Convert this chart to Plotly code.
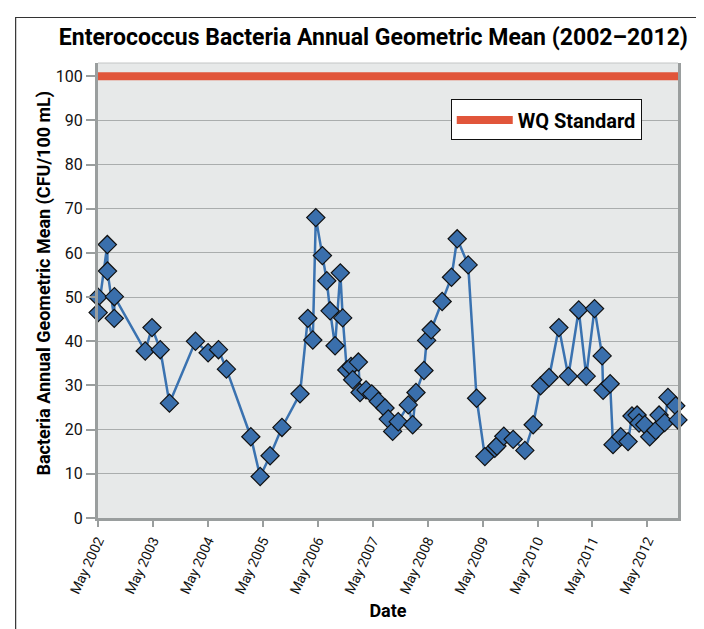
import plotly.graph_objects as go

dates = [
    "2002-05-01", "2002-05-02", "2002-07-02", "2002-07-03", "2002-08-17", "2002-08-18",
    "2003-03-11", "2003-04-25", "2003-06-19", "2003-08-19",
    "2004-02-08", "2004-05-02", "2004-07-10", "2004-09-01",
    "2005-02-10", "2005-04-13", "2005-06-18", "2005-09-05",
    "2006-01-03", "2006-02-24", "2006-03-29", "2006-04-18", "2006-06-01", "2006-06-30",
    "2006-07-22", "2006-08-24", "2006-09-28", "2006-10-14", "2006-11-10", "2006-12-08",
    "2006-12-19", "2007-01-26", "2007-02-06", "2007-03-18", "2007-04-25", "2007-06-08",
    "2007-07-22", "2007-08-13", "2007-09-11", "2007-10-18", "2007-12-24",
    "2008-01-22", "2008-02-13", "2008-04-06", "2008-04-24", "2008-05-24", "2008-08-05",
    "2008-10-06", "2008-11-13",
    "2009-01-25", "2009-03-22", "2009-05-16", "2009-07-21", "2009-08-04", "2009-09-19",
    "2009-11-20",
    "2010-02-06", "2010-04-02", "2010-05-21", "2010-07-17", "2010-09-20", "2010-11-22",
    "2011-01-30", "2011-03-21", "2011-05-15", "2011-07-05", "2011-07-11", "2011-08-27",
    "2011-09-15", "2011-11-05", "2011-12-24",
    "2012-01-19", "2012-02-22", "2012-03-06", "2012-04-13", "2012-05-16", "2012-06-25",
    "2012-07-17", "2012-08-23", "2012-09-14", "2012-11-05", "2012-11-20",
]
geo_mean = [
    50.0, 46.5, 61.9, 55.9, 45.2, 50.1,
    37.8, 43.1, 38.1, 26.0,
    40.0, 37.4, 38.1, 33.7,
    18.4, 9.4, 14.1, 20.5,
    28.1, 45.2, 40.3, 68.0, 59.4, 53.7,
    46.9, 39.0, 55.5, 45.3, 33.5, 34.3,
    31.3, 35.3, 28.4, 29.0, 28.1, 26.4,
    24.9, 22.4, 19.6, 21.8, 25.6,
    21.1, 28.4, 33.4, 40.2, 42.6, 49.0,
    54.5, 63.2,
    57.3, 27.1, 13.9, 15.8, 16.3, 18.5,
    17.8,
    15.3, 21.1, 29.9, 31.8, 43.1, 32.1,
    47.1, 32.1, 47.4, 36.7, 28.9, 30.4,
    16.6, 18.4, 17.3,
    23.1, 23.3, 21.5, 21.1, 18.4, 19.8,
    23.3, 21.6, 27.3, 25.4, 22.2,
]

x_range = ["2002-05-01", "2012-11-20"]
wq_standard = 100
wq_name = "WQ Standard"
y_ticks = [0, 10, 20, 30, 40, 50, 60, 70, 80, 90, 100]
y_title = "Bacteria Annual Geometric Mean (CFU/100 mL)"

FONT = "Roboto, Liberation Sans, sans-serif"

fig = go.Figure()
fig.add_trace(go.Scatter(
    x=x_range, y=[wq_standard, wq_standard], mode="lines", name=wq_name,
    line=dict(color="#e1553a", width=8), cliponaxis=False,
))
fig.add_trace(go.Scatter(
    x=dates, y=geo_mean, mode="lines+markers", showlegend=False,
    line=dict(color="#3a72b0", width=2.5),
    marker=dict(symbol="diamond", size=14, color="#3a6fac",
                line=dict(color="#111111", width=1.2)),
    cliponaxis=False,
))

# outer frame and top border of plot area
fig.add_shape(type="rect", xref="paper", yref="paper", x0=-0.142, x1=1.08, y0=-0.3, y1=1.1,
              line=dict(color="#333333", width=1.2), fillcolor="rgba(0,0,0,0)", layer="below")
fig.add_shape(type="line", xref="paper", yref="paper", x0=0, x1=1, y0=1, y1=1,
              line=dict(color="#c4c6c6", width=1))

fig.add_annotation(text="<b>" + y_title + "</b>", xref="paper", yref="paper",
                   x=-0.0925, y=0.516, xanchor="center", yanchor="middle",
                   textangle=-90, showarrow=False,
                   font=dict(size=18, family=FONT, color="#000000"))

fig.update_layout(
    width=704, height=629,
    margin=dict(l=90, r=34, t=55, b=119, autoexpand=False),
    paper_bgcolor="white", plot_bgcolor="#e7e9e9",
    font=dict(family=FONT, color="#111111", size=15),
    title=dict(text="<b>Enterococcus Bacteria Annual Geometric Mean (2002–2012)</b>",
               x=0.519, xanchor="center", y=0.954, yanchor="middle",
               font=dict(size=23, family=FONT, color="#000000")),
    showlegend=True,
    legend=dict(x=0.9375, xanchor="right", y=0.92, yanchor="top",
                bgcolor="white", bordercolor="#111111", borderwidth=1,
                font=dict(size=20, family=FONT, color="#000000", weight="bold"),
                itemwidth=56),
    xaxis=dict(
        type="date", range=x_range, tick0="2002-05-01", dtick="M12", tickformat="%b %Y",
        tickangle=-65, showgrid=False, zeroline=False, automargin=False,
        showline=True, linecolor="#9a9e9e", linewidth=3,
        ticks="outside", ticklen=6, tickcolor="#9a9e9e", tickwidth=1.5,
        tickfont=dict(size=14, color="#111111"),
        title=dict(text="<b>Date</b>", font=dict(size=18, color="#000000"), standoff=9),
    ),
    yaxis=dict(
        range=[0, 103], tickvals=y_ticks, showgrid=True, gridcolor="#aaadad", gridwidth=1.3,
        zeroline=False, showline=True, mirror=True, linecolor="#9a9e9e", linewidth=3,
        automargin=False,
        ticks="outside", ticklen=9, tickcolor="#9a9e9e", tickwidth=1.5,
        tickfont=dict(size=16, color="#111111"),
    ),
)

fig.write_html("out.html")
